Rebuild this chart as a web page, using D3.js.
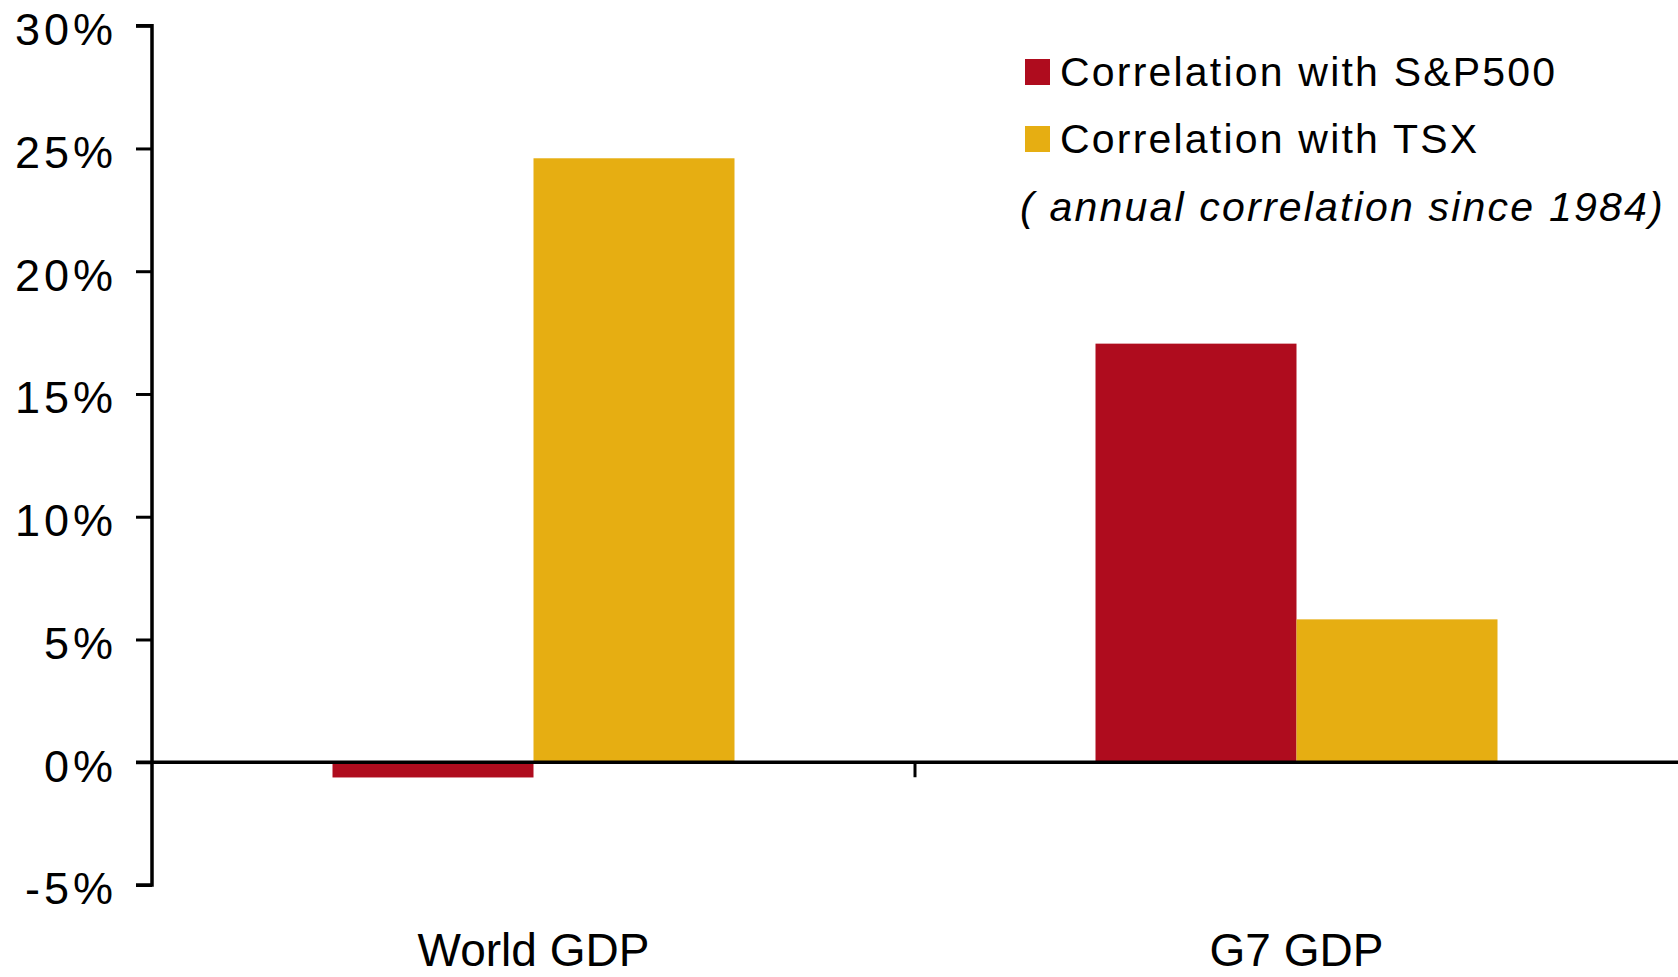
<!DOCTYPE html>
<html>
<head>
<meta charset="utf-8">
<script src="https://cdn.jsdelivr.net/npm/d3@7"></script>
<style>
  html, body { margin: 0; padding: 0; background: #fff; }
  svg { display: block; }
  text { font-family: "Liberation Sans", Arial, sans-serif; fill: #000; }
</style>
</head>
<body>
<svg id="chart" width="1678" height="977"></svg>
<script>
const categories = ["World GDP", "G7 GDP"];
const seriesNames = ["Correlation with S&P500", "Correlation with TSX"];
const sp500Values = [-0.62, 17.05];
const tsxValues = [24.6, 5.82];
const yTicks = [-5, 0, 5, 10, 15, 20, 25, 30];
const colors = ["#AF0C1E", "#E6AE12"];
const note = "( annual correlation since 1984)";

(function () {
const svg = d3.select("#chart");
const mLeft = 152, mRight = 1678, mTop = 25.7, mBottom = 885;

const x = d3.scaleBand().domain(categories).range([mLeft, mRight]).paddingInner(0).paddingOuter(0);
const xs = d3.scaleBand().domain(seriesNames).range([0, x.bandwidth()]).paddingInner(0).paddingOuter(0.898);
const y = d3.scaleLinear().domain([-5, 30]).range([mBottom, mTop]);

const seriesValues = [sp500Values, tsxValues];
const data = [];
categories.forEach((c, i) => {
  seriesNames.forEach((s, j) => data.push({cat: c, series: s, value: seriesValues[j][i], color: colors[j]}));
});

// bars
svg.append("g").selectAll("rect").data(data).join("rect")
  .attr("x", d => x(d.cat) + xs(d.series))
  .attr("width", xs.bandwidth())
  .attr("y", d => y(Math.max(0, d.value)))
  .attr("height", d => Math.abs(y(d.value) - y(0)))
  .attr("fill", d => d.color);

// y axis
const yAxis = d3.axisLeft(y).tickValues(yTicks).tickFormat(d => d + "%").tickSize(16).tickPadding(19);
const gy = svg.append("g").attr("transform", `translate(${mLeft},0)`).call(yAxis);
gy.select(".domain").attr("stroke", "#000").attr("stroke-width", 3.5).attr("d", `M-16,${y(30)}H0V${y(-5)}H-16`);
gy.selectAll(".tick line").attr("stroke", "#000").attr("stroke-width", 3);
gy.selectAll(".tick text").attr("font-size", 45).attr("letter-spacing", 4).attr("dy", "0.42em")
  .attr("font-family", "'Liberation Sans', Arial, sans-serif").attr("fill", "#000");

// x axis at zero
const xAxis = d3.axisBottom(x).tickSize(0).tickFormat("");
const gx = svg.append("g").attr("transform", `translate(0,${y(0)})`).call(xAxis);
gx.select(".domain").attr("stroke", "#000").attr("stroke-width", 3.5).attr("d", `M${mLeft - 16},0H${mRight}`);
gx.selectAll(".tick").remove();
gx.selectAll(".bnd").data(categories.slice(1)).join("line")
  .attr("x1", d => x(d)).attr("x2", d => x(d)).attr("y1", 0).attr("y2", 15)
  .attr("stroke", "#000").attr("stroke-width", 3);

// category labels
svg.append("g").selectAll("text").data(categories).join("text")
  .attr("x", d => x(d) + x.bandwidth() / 2)
  .attr("y", 966)
  .attr("text-anchor", "middle")
  .attr("font-size", 46)
  .text(d => d);

// legend
const lg = svg.append("g").attr("transform", "translate(1025,59)");
seriesNames.forEach((s, i) => {
  const row = lg.append("g").attr("transform", `translate(0,${i * 67})`);
  row.append("rect").attr("width", 25).attr("height", 26).attr("fill", colors[i]);
  row.append("text").attr("x", 35).attr("y", 27).attr("font-size", 41).attr("letter-spacing", 2.2).text(s);
});
lg.append("text").attr("x", -5).attr("y", 162).attr("font-size", 41).attr("font-style", "italic")
  .attr("letter-spacing", 2.2).text(note);
})();
</script>
</body>
</html>
